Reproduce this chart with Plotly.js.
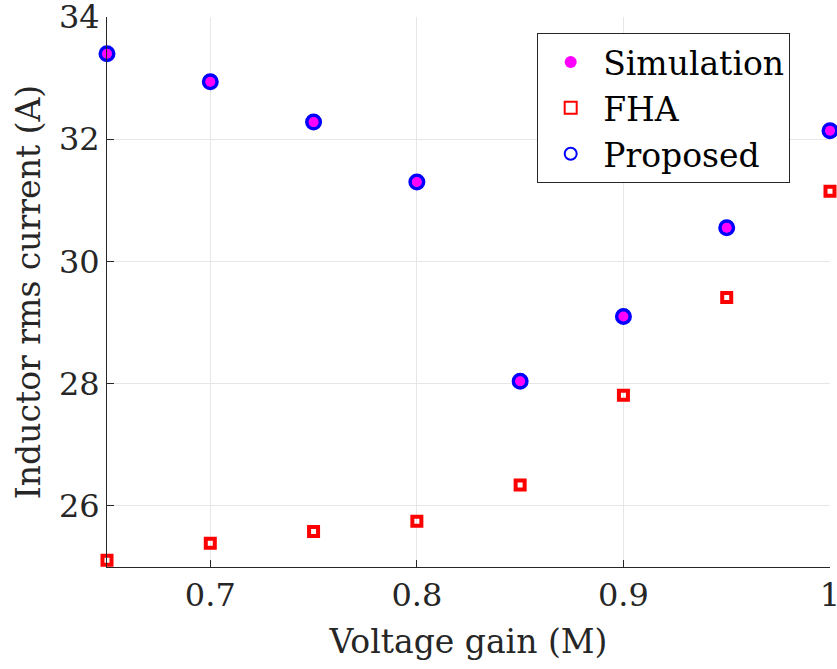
<!DOCTYPE html>
<html><head><meta charset="utf-8">
<script src="https://cdn.plot.ly/plotly-3.0.1.min.js"></script>
<style>body{margin:0;background:#fff}#chart{width:837px;height:669px}</style>
</head><body><div id="chart"></div>
<script>
const gain = [0.65, 0.70, 0.75, 0.80, 0.85, 0.90, 0.95, 1.00];
const simulation = [33.40, 32.94, 32.28, 31.30, 28.04, 29.10, 30.55, 32.14];
const fha = [25.11, 25.39, 25.58, 25.75, 26.34, 27.81, 29.41, 31.15];
const proposed = [33.40, 32.94, 32.28, 31.30, 28.04, 29.10, 30.55, 32.14];
const xTicks = [0.7, 0.8, 0.9, 1.0];
const xTickText = ['0.7', '0.8', '0.9', '1'];
const yTicks = [26, 28, 30, 32, 34];

const traces = [
  {x: gain, y: fha, name: 'FHA', mode: 'markers', type: 'scatter', cliponaxis: false, legendrank: 2,
   marker: {symbol: 'square-open', size: 9, color: '#ff0000', line: {width: 4, color: '#ff0000'}}},
  {x: gain, y: proposed, name: 'Proposed', mode: 'markers', type: 'scatter', cliponaxis: false, legendrank: 3,
   marker: {symbol: 'circle-open', size: 13, color: '#0000ff', line: {width: 4, color: '#0000ff'}}},
  {x: gain, y: simulation, name: 'Simulation', mode: 'markers', type: 'scatter', cliponaxis: false, legendrank: 1,
   marker: {symbol: 'circle', size: 10, color: '#ff00ff', line: {width: 0}}}
];

const layout = {
  width: 837, height: 669,
  margin: {l: 107, r: 7, t: 17, b: 102},
  paper_bgcolor: '#ffffff', plot_bgcolor: '#ffffff',
  font: {family: 'DejaVu Serif, serif', color: '#262626', size: 33},
  showlegend: true,
  legend: {x: 0.595, y: 0.971, xanchor: 'left', yanchor: 'top',
    bordercolor: '#262626', borderwidth: 1, bgcolor: '#ffffff', itemwidth: 55,
    font: {size: 33, color: '#000000', family: 'DejaVu Serif, serif'}, itemsizing: 'constant', tracegroupgap: 0},
  xaxis: {range: [0.65, 1.0], tickvals: xTicks, ticktext: xTickText, showgrid: true, gridcolor: '#e6e6e6', gridwidth: 1,
    showline: true, linecolor: '#262626', linewidth: 1, ticks: 'inside', ticklen: 7, tickcolor: '#262626',
    zeroline: false, mirror: false, tickfont: {size: 32}, ticklabeloverflow: 'allow',
    title: {text: 'Voltage gain (M)', font: {size: 33, color: '#262626'}, standoff: 16}},
  yaxis: {range: [25, 34], tickvals: yTicks, showgrid: true, gridcolor: '#e6e6e6', gridwidth: 1,
    showline: true, linecolor: '#262626', linewidth: 1, ticks: 'inside', ticklen: 7, tickcolor: '#262626',
    zeroline: false, mirror: false, tickfont: {size: 32}, ticklabeloverflow: 'allow',
    title: {text: 'Inductor rms current (A)', font: {size: 33, color: '#262626'}, standoff: 8}}
};
Plotly.newPlot('chart', traces, layout, {displayModeBar: false, staticPlot: true});
</script></body></html>
